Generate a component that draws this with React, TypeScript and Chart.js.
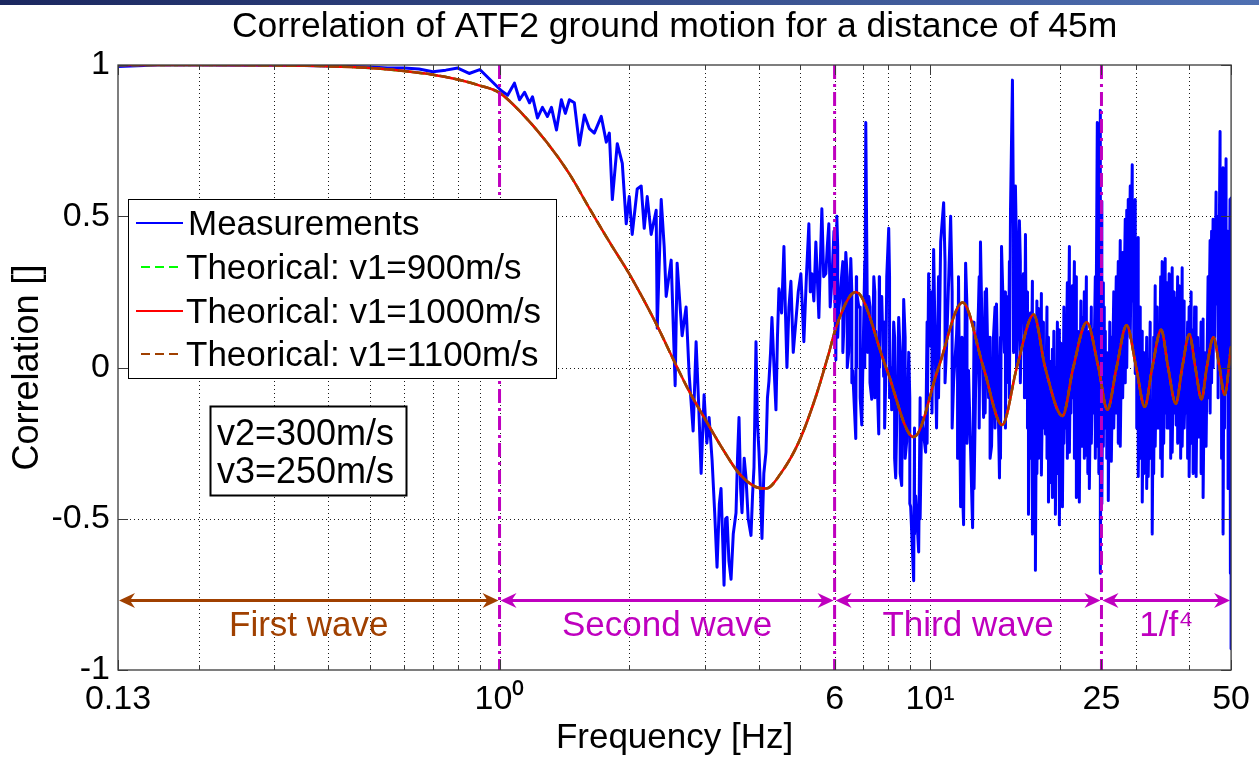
import React, { useEffect, useRef } from 'react';
import { Chart, registerables } from 'chart.js';

Chart.register(...registerables);

const FONT = '"Liberation Sans", Arial, Helvetica, sans-serif';
Chart.defaults.font.family = FONT;

const titleText = 'Correlation of ATF2 ground motion for a distance of 45m';
const xTitle = 'Frequency [Hz]';
const yTitle = 'Correlation []';

// ---- Measurements (blue), low band 0.13 .. 6 Hz ----
const measFreqLow = [
  0.13, 0.16, 0.2, 0.25, 0.3, 0.35, 0.4, 0.45, 0.5, 0.55, 0.6, 0.65, 0.7, 0.75, 0.8, 0.85, 0.9,
  1.01, 1.044, 1.083, 1.113, 1.143, 1.174, 1.193, 1.225, 1.258, 1.292,
  1.32, 1.356, 1.392, 1.422, 1.453, 1.492, 1.533, 1.574, 1.616, 1.66,
  1.723, 1.77, 1.799, 1.828, 1.877, 1.928, 1.969, 2.001, 2.033, 2.088,
  2.133, 2.168, 2.203, 2.25, 2.311, 2.324, 2.374, 2.412, 2.438, 2.504,
  2.558, 2.585, 2.655, 2.712, 2.756, 2.816, 2.861, 2.9, 2.939, 2.986,
  3.03, 3.067, 3.116, 3.16, 3.2, 3.24, 3.269, 3.3, 3.322, 3.35,
  3.376, 3.41, 3.449, 3.49, 3.542, 3.57, 3.599, 3.63, 3.657, 3.7,
  3.736, 3.78, 3.837, 3.87, 3.899, 3.941, 3.97, 4.005, 4.04, 4.069,
  4.11, 4.157, 4.19, 4.224, 4.26, 4.292, 4.34, 4.385, 4.42, 4.456,
  4.52, 4.576, 4.61, 4.65, 4.7, 4.75, 4.81, 4.879, 4.94, 5.01,
  5.05, 5.091, 5.16, 5.229, 5.27, 5.313, 5.37, 5.428, 5.47, 5.516,
  5.56, 5.605, 5.66, 5.726, 5.77, 5.818, 5.86, 5.912, 5.98, 6.04,
];
const measValLow = [
  0.995, 1.0, 1.0, 0.999, 0.999, 0.998, 0.997, 0.995, 0.993, 0.99, 0.99, 0.987, 0.978, 0.983, 0.99, 0.972, 0.985,
  0.915, 0.9, 0.94, 0.885, 0.91, 0.875, 0.895, 0.825, 0.86, 0.83,
  0.86, 0.785, 0.885, 0.84, 0.885, 0.875, 0.735, 0.835, 0.79, 0.775,
  0.83, 0.745, 0.775, 0.555, 0.74, 0.675, 0.475, 0.565, 0.44, 0.59,
  0.6, 0.46, 0.565, 0.44, 0.52, 0.13, 0.555, 0.4, 0.235, 0.355,
  -0.06, 0.345, 0.105, 0.2, -0.02, -0.21, 0.085, -0.12, -0.35, -0.09,
  -0.25, -0.165, -0.305, -0.48, -0.66, -0.45, -0.4, -0.58, -0.72, -0.5,
  -0.495, -0.64, -0.7, -0.55, -0.48, -0.3, -0.165, -0.4, -0.48, -0.3,
  -0.365, -0.5, -0.555, -0.42, -0.33, 0.085, -0.18, -0.28, -0.42, -0.565,
  -0.35, -0.28, -0.1, -0.045, 0.05, 0.165, 0.0, -0.14, 0.1, 0.26,
  0.18, 0.4, 0.2, 0.0, 0.2, 0.285, 0.05, 0.155, 0.25, 0.31,
  0.2, 0.085, 0.3, 0.475, 0.25, 0.31, 0.22, 0.415, 0.3, 0.165,
  0.35, 0.525, 0.3, 0.31, 0.4, 0.475, 0.2, 0.285, 0.45, 0.025,
];

// ---- Measurements, mid band 6 .. 17 Hz (single excursions) ----
const measFreqMid = [
  6.072, 6.14, 6.236, 6.3, 6.371, 6.47, 6.543, 6.61, 6.72, 6.76,
  6.829, 6.939, 7.01, 7.089, 7.16, 7.203, 7.319, 7.4, 7.477, 7.598,
  7.64, 7.72, 7.8, 7.886, 7.93, 8.014, 8.1, 8.143, 8.23, 8.319,
  8.453, 8.59, 8.682, 8.822, 8.92, 9.012, 9.158, 9.256, 9.406, 9.557,
  9.763, 9.921, 10.03, 10.19, 10.35, 10.58, 10.75, 10.92, 11.16, 11.34,
  11.52, 11.64, 11.77, 11.96, 12.09, 12.28, 12.55, 12.75, 12.95, 13.09,
  13.31, 13.52, 13.67, 13.89, 14.03, 14.26, 14.49, 14.65, 14.88, 15.04,
  15.2, 15.37, 15.53, 15.7, 15.78, 15.95, 16.12, 16.3, 16.47, 16.65,
  16.74,
];
const measValMid = [
  0.5, 0.19, 0.31, 0.12, 0.38, 0.05, 0.36, -0.01, -0.235, 0.25,
  0.2, -0.19, 0.15, 0.81, 0.05, 0.235, -0.105, 0.3, 0.12, -0.22,
  0.2, 0.235, -0.03, -0.045, 0.3, 0.46, 0.0, -0.14, 0.15, -0.365,
  0.165, -0.39, 0.225, -0.245, 0.05, -0.46, -0.705, -0.425, -0.61, -0.165,
  -0.28, 0.31, 0.07, 0.39, -0.2, 0.415, 0.545, 0.07, 0.5, -0.045,
  0.11, 0.3, -0.46, -0.52, 0.345, -0.01, -0.53, -0.08, 0.2, 0.415,
  -0.165, 0.26, -0.1, -0.26, 0.1, 0.21, -0.365, 0.4, 0.05, 0.235,
  -0.05, 0.52, 0.95, 0.3, 0.6, 0.1, 0.485, 0.155, 0.31, 0.44,
  -0.1,
];

// ---- Measurements, mid band dense core (upper / lower) ----
const measFreqMidCore = [
  6.1, 6.27, 6.42, 6.58, 6.74, 6.88, 7.05, 7.25, 7.44, 7.62,
  7.84, 8.05, 8.27, 8.52, 8.75, 8.97, 9.2, 9.48, 9.84, 10.1,
  10.46, 10.83, 11.25, 11.58, 11.86, 12.18, 12.65, 13.0, 13.42, 13.78,
  14.15, 14.57, 14.96, 15.28, 15.62, 15.87, 16.2, 16.56, 16.83,
];
const measTopMidCore = [
  0.4, 0.35, 0.3, 0.25, 0.3, 0.2, 0.35, 0.2, 0.25, 0.3,
  0.15, 0.3, 0.1, 0.05, 0.1, -0.1, -0.2, -0.1, 0.15, 0.25,
  0.3, 0.35, 0.25, 0.2, 0.1, 0.2, 0.15, 0.3, 0.25, 0.1,
  0.2, 0.1, 0.25, 0.35, 0.45, 0.4, 0.35, 0.3, 0.25,
];
const measBotMidCore = [
  0.1, 0.05, 0.0, -0.05, 0.0, -0.1, 0.0, -0.05, -0.1, 0.0,
  -0.2, -0.1, -0.3, -0.35, -0.3, -0.45, -0.55, -0.5, -0.25, -0.15,
  -0.1, -0.05, -0.2, -0.3, -0.35, -0.25, -0.4, -0.2, -0.15, -0.3,
  -0.2, -0.3, -0.2, -0.1, 0.05, 0.0, -0.05, -0.1, -0.2,
];

// ---- Measurements, high band 17 .. 50 Hz (outer excursions) ----
const measFreqHigh = [
  16.92, 17.28, 17.56, 17.85, 18.13, 18.53, 18.83, 19.23, 19.54, 19.96,
  20.29, 20.61, 21.06, 21.4, 21.86, 22.21, 22.57, 23.06, 23.43, 23.93,
  24.45, 24.85, 25.25, 25.52, 25.93, 26.35, 27.06, 27.64, 28.39, 28.85,
  29.47, 29.95, 30.43, 31.09, 31.59, 32.1, 32.79, 33.32, 34.04, 34.59,
  35.15, 35.9, 36.49, 37.27, 37.88, 38.49, 39.32, 39.95, 40.81, 41.47,
  42.14, 43.05, 43.74, 44.69, 45.41, 46.14, 47.14, 47.9, 48.67, 49.72,
  50,
];
const measTopHigh = [
  0.1, 0.285, 0.165, 0.195, 0.245, 0.05, 0.1, 0.06, 0.0, 0.125,
  0.03, 0.0, 0.4, 0.27, 0.3, 0.05, 0.165, 0.3, 0.12, 0.125,
  0.81, 0.85, 0.28, 0.12, -0.07, 0.1, 0.3, 0.42, 0.49, 0.555,
  0.67, 0.555, 0.43, 0.12, -0.08, 0.0, -0.15, 0.27, 0.04, 0.35,
  0.36, 0.31, 0.33, 0.23, 0.27, 0.33, 0.06, 0.2, 0.125, 0.2,
  0.06, 0.16, -0.02, 0.42, 0.49, 0.58, 0.78, 0.66, 0.69, 0.555,
  0.56,
];
const measBotHigh = [
  -0.485, -0.55, -0.67, -0.3, -0.355, -0.22, -0.445, -0.43, -0.485, -0.52,
  -0.46, -0.2, -0.28, -0.1, -0.43, -0.445, -0.26, -0.29, -0.4, -0.15,
  -0.26, -0.68, -0.26, -0.14, -0.44, -0.31, -0.15, -0.26, -0.05, 0.12,
  0.22, -0.02, -0.36, -0.445, -0.265, -0.36, -0.55, -0.26, -0.2, -0.36,
  -0.15, -0.2, -0.28, -0.19, -0.15, -0.26, -0.15, -0.36, -0.35, -0.36,
  -0.23, -0.43, -0.26, -0.15, 0.0, 0.21, 0.0, -0.55, -0.08, -0.68,
  -0.93,
];

// ---- Measurements, high band dense core (upper / lower) ----
const measFreqHighCore = [
  17.1, 17.42, 17.7, 17.99, 18.33, 18.68, 19.03, 19.38, 19.75, 20.12,
  20.45, 20.83, 21.23, 21.63, 22.03, 22.39, 22.81, 23.24, 23.68, 24.19,
  24.65, 25.05, 25.38, 25.72, 26.14, 26.7, 27.35, 28.0, 28.62, 29.16,
  29.71, 30.19, 30.76, 31.34, 31.84, 32.44, 33.05, 33.68, 34.31, 34.87,
  35.52, 36.2, 36.88, 37.57, 38.18, 38.9, 39.63, 40.38, 41.14, 41.8,
  42.59, 43.39, 44.21, 45.05, 45.77, 46.64, 47.52, 48.28, 49.2, 49.86,
];
const measTopHighCore = [
  0.18, 0.05, 0.22, 0.1, 0.15, 0.2, 0.02, 0.12, 0.15, 0.08,
  0.2, 0.28, 0.18, 0.35, 0.12, 0.22, 0.25, 0.1, 0.2, 0.3,
  0.45, 0.55, 0.2, 0.05, 0.15, 0.25, 0.35, 0.38, 0.52, 0.6,
  0.5, 0.3, 0.2, 0.05, 0.1, 0.15, 0.1, 0.2, 0.3, 0.25,
  0.28, 0.2, 0.25, 0.3, 0.18, 0.22, 0.15, 0.25, 0.2, 0.1,
  0.15, 0.05, 0.3, 0.45, 0.4, 0.5, 0.55, 0.6, 0.45, 0.4,
];
const measBotHighCore = [
  -0.3, -0.4, -0.35, -0.25, -0.2, -0.3, -0.38, -0.3, -0.35, -0.4,
  -0.25, -0.3, -0.15, -0.3, -0.35, -0.2, -0.3, -0.35, -0.25, -0.3,
  -0.35, -0.45, -0.2, -0.3, -0.25, -0.2, -0.25, -0.1, 0.0, 0.1,
  0.05, -0.2, -0.3, -0.35, -0.4, -0.3, -0.35, -0.2, -0.3, -0.25,
  -0.2, -0.3, -0.15, -0.25, -0.3, -0.2, -0.3, -0.25, -0.3, -0.2,
  -0.35, -0.25, -0.1, -0.05, 0.1, -0.1, -0.3, -0.2, -0.4, -0.3,
];

// ---- Theoretical curves (the three curves overlap in the picture) ----
const theoFreq = [
  0.13, 0.2, 0.3, 0.4, 0.5, 0.6, 0.7, 0.8, 0.9, 1.0,
  1.113, 1.285, 1.453, 1.616, 1.8, 2.0, 2.31, 2.56, 2.76, 3.02,
  3.3, 3.6, 3.94, 4.16, 4.5, 4.96, 5.43, 5.82, 6.07, 6.72,
  7.9, 9.16, 10.46, 11.9, 13.3, 14.7, 15.9, 17.4, 18.5, 20.3,
  21.5, 23.1, 24.6, 25.8, 27.1, 28.6, 30.1, 31.5, 32.8, 34.4,
  35.7, 37.2, 38.5, 40.0, 41.3, 42.7, 43.9, 45.5, 47.0, 48.3,
  50,
];
const theo1000 = [
  1.0, 1.0, 0.999, 0.996, 0.99, 0.98, 0.968, 0.952, 0.932, 0.908,
  0.848, 0.746, 0.64, 0.527, 0.415, 0.31, 0.145, 0.013, -0.08, -0.177,
  -0.27, -0.35, -0.395, -0.4, -0.35, -0.245, -0.095, 0.048, 0.14, 0.25,
  0.0, -0.23, 0.0, 0.215, 0.0, -0.19, 0.0, 0.175, 0.0, -0.16,
  0.0, 0.15, 0.0, -0.14, 0.0, 0.14, 0.0, -0.13, 0.0, 0.125,
  0.0, -0.12, 0.0, 0.11, 0.0, -0.105, 0.0, 0.1, 0.0, -0.09,
  0.07,
];
const theo900 = theo1000;
const theo1100 = theo1000;

const seriesLabels = [
  'Measurements',
  'Theorical: v1=900m/s',
  'Theorical: v1=1000m/s',
  'Theorical: v1=1100m/s',
];
const BLUE = '#0000ff';
const GREEN = '#00ff00';
const RED = '#ff0000';
const BROWN = '#a04000';
const MAGENTA = '#bf00bf';

// ---- Axes ----
const xTickVals = [0.13, 1, 6, 10, 25, 50];
const xTickLabels = ['0.13', '10⁰', '6', '10¹', '25', '50'];
const xGridVals = [0.2, 0.3, 0.4, 0.5, 0.6, 0.7, 0.8, 0.9, 1, 2, 3, 4, 5, 6, 7, 8, 9, 10, 20, 30, 40];
const yTickVals = [-1, -0.5, 0, 0.5, 1];
const yGridVals = [-0.5, 0, 0.5];

// ---- Annotations ----
const regionLines = [1, 6, 25];
const waveBounds = [0.13, 1, 6, 25, 50];
const waveLabels = ['First wave', 'Second wave', 'Third wave', '1/f⁴'];
const waveColors = [BROWN, MAGENTA, MAGENTA, MAGENTA];
const waveArrowY = -0.77;
const noteLines = ['v2=300m/s', 'v3=250m/s'];

type Pt = { x: number; y: number };

function zip(fs: number[], vs: number[]): Pt[] {
  const n = Math.min(fs.length, vs.length);
  const out: Pt[] = [];
  for (let i = 0; i < n; i++) out.push({ x: fs[i], y: vs[i] });
  return out;
}

function buildMeasurements(): Pt[] {
  const groups: { f: number; ys: number[] }[] = [];
  const addSingles = (fs: number[], vs: number[]) => {
    const n = Math.min(fs.length, vs.length);
    for (let i = 0; i < n; i++) groups.push({ f: fs[i], ys: [vs[i]] });
  };
  const addPairs = (fs: number[], tops: number[], bots: number[]) => {
    const n = Math.min(fs.length, tops.length, bots.length);
    for (let i = 0; i < n; i++) groups.push({ f: fs[i], ys: [tops[i], bots[i]] });
  };
  addSingles(measFreqLow, measValLow);
  addSingles(measFreqMid, measValMid);
  addPairs(measFreqMidCore, measTopMidCore, measBotMidCore);
  addPairs(measFreqHigh, measTopHigh, measBotHigh);
  addPairs(measFreqHighCore, measTopHighCore, measBotHighCore);
  groups.sort((a, b) => a.f - b.f);
  const pts: Pt[] = [];
  groups.forEach((g) => g.ys.forEach((y) => pts.push({ x: g.f, y })));
  return pts;
}

function drawHead(ctx: CanvasRenderingContext2D, tipX: number, y: number, dir: number) {
  const L = 16, W = 7.5, N = 5;
  ctx.beginPath();
  ctx.moveTo(tipX, y);
  ctx.lineTo(tipX - dir * L, y - W);
  ctx.lineTo(tipX - dir * (L - N), y);
  ctx.lineTo(tipX - dir * L, y + W);
  ctx.closePath();
  ctx.fill();
}

function seg(ctx: CanvasRenderingContext2D, x0: number, y0: number, x1: number, y1: number) {
  ctx.beginPath();
  ctx.moveTo(x0, y0);
  ctx.lineTo(x1, y1);
  ctx.stroke();
}

const decorPlugin = {
  id: 'decor',
  beforeDraw(chart: any) {
    const { ctx, width, height, chartArea } = chart;
    ctx.save();
    ctx.fillStyle = '#ffffff';
    ctx.fillRect(0, 0, width, height);
    const g = ctx.createLinearGradient(0, 0, width, 0);
    g.addColorStop(0, '#1b275f');
    g.addColorStop(1, '#4f70b2');
    ctx.fillStyle = g;
    ctx.fillRect(0, 0, width, 5);
    ctx.fillStyle = '#000';
    ctx.font = `35.5px ${FONT}`;
    ctx.textAlign = 'center';
    ctx.textBaseline = 'alphabetic';
    ctx.fillText(titleText, (chartArea.left + chartArea.right) / 2, 37);
    ctx.restore();
  },
  beforeDatasetsDraw(chart: any) {
    const { ctx, chartArea } = chart;
    const { left, right, top, bottom } = chartArea;
    const xs = chart.scales.x, ys = chart.scales.y;
    ctx.save();
    ctx.strokeStyle = '#1a1a1a';
    ctx.lineWidth = 1;
    ctx.setLineDash([1, 3]);
    for (const v of xGridVals) {
      const px = Math.round(xs.getPixelForValue(v)) + 0.5;
      seg(ctx, px, top, px, bottom);
    }
    for (const v of yGridVals) {
      const py = Math.round(ys.getPixelForValue(v)) + 0.5;
      seg(ctx, left, py, right, py);
    }
    ctx.restore();
  },
  afterDatasetsDraw(chart: any) {
    const { ctx, chartArea } = chart;
    const { left, right, top, bottom } = chartArea;
    const xs = chart.scales.x, ys = chart.scales.y;
    ctx.save();

    // region separators
    ctx.strokeStyle = MAGENTA;
    ctx.lineWidth = 3;
    ctx.setLineDash([14, 5, 3, 5]);
    for (const f of regionLines) {
      const px = xs.getPixelForValue(f);
      seg(ctx, px, top, px, bottom);
    }
    ctx.setLineDash([]);

    // box + ticks
    ctx.strokeStyle = '#3a3a3a';
    ctx.lineWidth = 1.3;
    ctx.strokeRect(left, top, right - left, bottom - top);
    ctx.lineWidth = 1;
    for (const v of xGridVals) {
      const px = Math.round(xs.getPixelForValue(v)) + 0.5;
      seg(ctx, px, bottom, px, bottom - 5);
      seg(ctx, px, top, px, top + 5);
    }
    for (const v of xTickVals) {
      const px = Math.round(xs.getPixelForValue(v)) + 0.5;
      seg(ctx, px, bottom, px, bottom - 10);
      seg(ctx, px, top, px, top + 10);
    }
    for (const v of yTickVals) {
      const py = Math.round(ys.getPixelForValue(v)) + 0.5;
      seg(ctx, left, py, left + 10, py);
      seg(ctx, right, py, right - 10, py);
    }

    // wave arrows
    const ay = ys.getPixelForValue(waveArrowY);
    waveLabels.forEach((lab, i) => {
      const x0 = xs.getPixelForValue(waveBounds[i]);
      const x1 = xs.getPixelForValue(waveBounds[i + 1]);
      ctx.strokeStyle = waveColors[i];
      ctx.fillStyle = waveColors[i];
      ctx.lineWidth = 3;
      seg(ctx, x0 + 8, ay, x1 - 8, ay);
      drawHead(ctx, x0 + 1, ay, -1);
      drawHead(ctx, x1 - 1, ay, 1);
      ctx.font = `35px ${FONT}`;
      ctx.textAlign = 'center';
      ctx.textBaseline = 'alphabetic';
      ctx.fillText(lab, (x0 + x1) / 2, ay + 36);
    });

    // legend
    const lx = 128, ly = 199, lw = 429, lh = 180;
    ctx.fillStyle = '#ffffff';
    ctx.fillRect(lx, ly, lw, lh);
    ctx.strokeStyle = '#000';
    ctx.lineWidth = 1;
    ctx.strokeRect(lx + 0.5, ly + 0.5, lw - 1, lh - 1);
    const styles = [
      { c: BLUE, dash: [] as number[], x0: 136 },
      { c: GREEN, dash: [9, 5], x0: 141 },
      { c: RED, dash: [] as number[], x0: 136 },
      { c: BROWN, dash: [9, 5], x0: 141 },
    ];
    const baselines = [235, 279, 323, 366];
    seriesLabels.forEach((lab, i) => {
      const st = styles[i];
      const by = baselines[i];
      ctx.strokeStyle = st.c;
      ctx.lineWidth = 2;
      ctx.setLineDash(st.dash);
      seg(ctx, st.x0, by - 12, 183, by - 12);
      ctx.setLineDash([]);
      ctx.fillStyle = '#000';
      ctx.font = `35px ${FONT}`;
      ctx.textAlign = 'left';
      ctx.textBaseline = 'alphabetic';
      ctx.fillText(lab, i === 0 ? 188 : 186, by);
    });

    // velocity note box
    const nx = 210, ny = 406, nw = 197, nh = 90;
    ctx.fillStyle = '#ffffff';
    ctx.fillRect(nx, ny, nw, nh);
    ctx.strokeStyle = '#000';
    ctx.strokeRect(nx + 0.5, ny + 0.5, nw - 1, nh - 1);
    ctx.fillStyle = '#000';
    ctx.font = `36px ${FONT}`;
    ctx.textAlign = 'left';
    noteLines.forEach((t, i) => ctx.fillText(t, 217, 445 + i * 38));

    ctx.restore();
  },
};

export default function App() {
  const canvasRef = useRef<HTMLCanvasElement | null>(null);

  useEffect(() => {
    const canvas = canvasRef.current;
    if (!canvas) return;
    const chart = new Chart(canvas, {
      type: 'line',
      data: {
        datasets: [
          {
            label: seriesLabels[0],
            data: buildMeasurements(),
            borderColor: BLUE,
            borderWidth: 3,
            borderJoinStyle: 'round',
            pointRadius: 0,
            tension: 0,
            order: 3,
          },
          {
            label: seriesLabels[1],
            data: zip(theoFreq, theo900),
            borderColor: GREEN,
            borderWidth: 2.5,
            borderDash: [8, 5],
            pointRadius: 0,
            cubicInterpolationMode: 'monotone',
            order: 2,
          },
          {
            label: seriesLabels[2],
            data: zip(theoFreq, theo1000),
            borderColor: RED,
            borderWidth: 2.5,
            pointRadius: 0,
            cubicInterpolationMode: 'monotone',
            order: 1,
          },
          {
            label: seriesLabels[3],
            data: zip(theoFreq, theo1100),
            borderColor: BROWN,
            borderWidth: 2.5,
            borderDash: [11, 3],
            pointRadius: 0,
            cubicInterpolationMode: 'monotone',
            order: 0,
          },
        ],
      },
      options: {
        animation: false,
        responsive: false,
        maintainAspectRatio: false,
        devicePixelRatio: 1,
        layout: { padding: { top: 65, right: 27, left: 0, bottom: 0 } },
        plugins: {
          legend: { display: false },
          tooltip: { enabled: false },
          title: { display: false },
        },
        scales: {
          x: {
            type: 'logarithmic',
            min: 0.13,
            max: 50,
            afterBuildTicks: (s: any) => {
              s.ticks = xTickVals.map((v) => ({ value: v }));
            },
            afterFit: (s: any) => {
              s.height = 92;
            },
            ticks: {
              autoSkip: false,
              maxRotation: 0,
              padding: 9,
              color: '#000',
              font: { size: 34, family: FONT },
              callback: (v: any) => {
                const i = xTickVals.findIndex((t) => Math.abs(t - Number(v)) < 1e-9);
                return i >= 0 ? xTickLabels[i] : '';
              },
            },
            grid: { display: false, drawTicks: false },
            border: { display: false },
            title: {
              display: true,
              text: xTitle,
              color: '#000',
              font: { size: 35, family: FONT },
              padding: { top: 0, bottom: 3 },
            },
          },
          y: {
            type: 'linear',
            min: -1,
            max: 1,
            afterBuildTicks: (s: any) => {
              s.ticks = yTickVals.map((v) => ({ value: v }));
            },
            afterFit: (s: any) => {
              s.width = 118;
            },
            ticks: {
              autoSkip: false,
              padding: 8,
              color: '#000',
              font: { size: 34, family: FONT },
              callback: (v: any) => String(v),
            },
            grid: { display: false, drawTicks: false },
            border: { display: false },
            title: {
              display: true,
              text: yTitle,
              color: '#000',
              font: { size: 36, family: FONT },
              padding: { top: 6, bottom: 0 },
            },
          },
        },
      } as any,
      plugins: [decorPlugin],
    });
    return () => chart.destroy();
  }, []);

  return (
    <div style={{ position: 'fixed', left: 0, top: 0, width: 1259, height: 762, background: '#fff' }}>
      <canvas ref={canvasRef} width={1259} height={762} style={{ display: 'block', width: 1259, height: 762 }} />
    </div>
  );
}
